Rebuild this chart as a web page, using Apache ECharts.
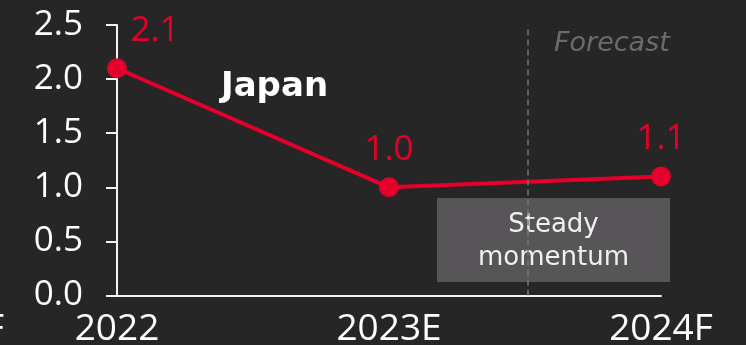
<!DOCTYPE html>
<html>
<head>
<meta charset="utf-8">
<script src="https://cdn.jsdelivr.net/npm/echarts@6/dist/echarts.min.js"></script>
<style>
  html, body { margin: 0; padding: 0; background: #262626; }
  #chart { width: 746px; height: 345px; }
</style>
</head>
<body>
<div id="chart"></div>
<script>
// Japan real GDP growth, %
const categories = ['2022', '2023E', '2024F'];
const growth = [2.1, 1.0, 1.1];
const yTicks = [0, 0.5, 1.0, 1.5, 2.0, 2.5];
const forecastStart = 1.515;   // divider between actuals and forecast (category units)

const NUM_FONT = 'Open Sans';
const NUM_WEIGHT = 400;
const RED = '#e4002b';

const chart = echarts.init(document.getElementById('chart'));

const points = growth.map((v, i) => {
  const item = { value: [i, v] };
  if (i === 0) item.label = { offset: [38, 0] };
  return item;
});

chart.setOption({
  backgroundColor: '#262626',
  animation: false,
  grid: {
    left: 117, right: 85, top: 25, bottom: 49.5,
    containLabel: false,
    outerBoundsMode: 'none'
  },
  xAxis: {
    type: 'value',
    min: 0,
    max: categories.length - 1,
    interval: 1,
    splitLine: { show: false },
    axisTick: { show: false },
    axisLine: { show: true, lineStyle: { color: '#f2f2f2', width: 2 } },
    axisLabel: {
      color: '#ffffff',
      fontFamily: NUM_FONT,
      fontWeight: NUM_WEIGHT,
      fontSize: 37,
      margin: 15,
      formatter: v => categories[v] || ''
    }
  },
  yAxis: {
    type: 'value',
    min: yTicks[0],
    max: yTicks[yTicks.length - 1],
    interval: 0.5,
    splitLine: { show: false },
    axisLine: { show: true, lineStyle: { color: '#f2f2f2', width: 2 } },
    axisTick: { show: true, length: 11, lineStyle: { color: '#f2f2f2', width: 2 } },
    axisLabel: {
      color: '#ffffff',
      fontFamily: NUM_FONT,
      fontWeight: NUM_WEIGHT,
      fontSize: 35,
      margin: 34,
      formatter: v => v.toFixed(1)
    }
  },
  series: [{
    type: 'line',
    data: points,
    symbol: 'circle',
    symbolSize: 20,
    lineStyle: { color: RED, width: 4 },
    itemStyle: { color: RED },
    label: {
      show: true,
      position: 'top',
      distance: 10,
      color: RED,
      fontFamily: NUM_FONT,
      fontWeight: NUM_WEIGHT,
      fontSize: 35,
      formatter: p => p.value[1].toFixed(1)
    },
    markLine: {
      silent: true,
      symbol: 'none',
      label: { show: false },
      lineStyle: { color: '#767676', type: [6, 4], width: 1.5 },
      data: [{ xAxis: forecastStart }]
    },
    z: 3
  }],
  graphic: [
    {
      type: 'text', left: 221, top: 70, z: 10,
      style: { text: 'Japan', fill: '#ffffff', font: 'bold 34px "DejaVu Sans"' }
    },
    {
      type: 'text', left: 554, top: 30, z: 10,
      style: { text: 'Forecast', fill: '#6b6b6b', font: 'italic 27px "DejaVu Sans"' }
    },
    {
      type: 'group', left: 437, top: 198, z: 20,
      children: [
        { type: 'rect', shape: { x: 0, y: 0, width: 233, height: 84 }, style: { fill: '#585558' } },
        {
          type: 'text', x: 116.5, y: 44,
          style: {
            text: 'Steady\nmomentum', fill: '#f0f0f0',
            font: '26px "DejaVu Sans"', lineHeight: 33,
            align: 'center', verticalAlign: 'middle'
          }
        }
      ]
    },
    {
      type: 'text', right: 742, top: 311,
      style: { text: '2024F', fill: '#ffffff', font: '400 37px "Open Sans"' }
    }
  ]
});
</script>
</body>
</html>
